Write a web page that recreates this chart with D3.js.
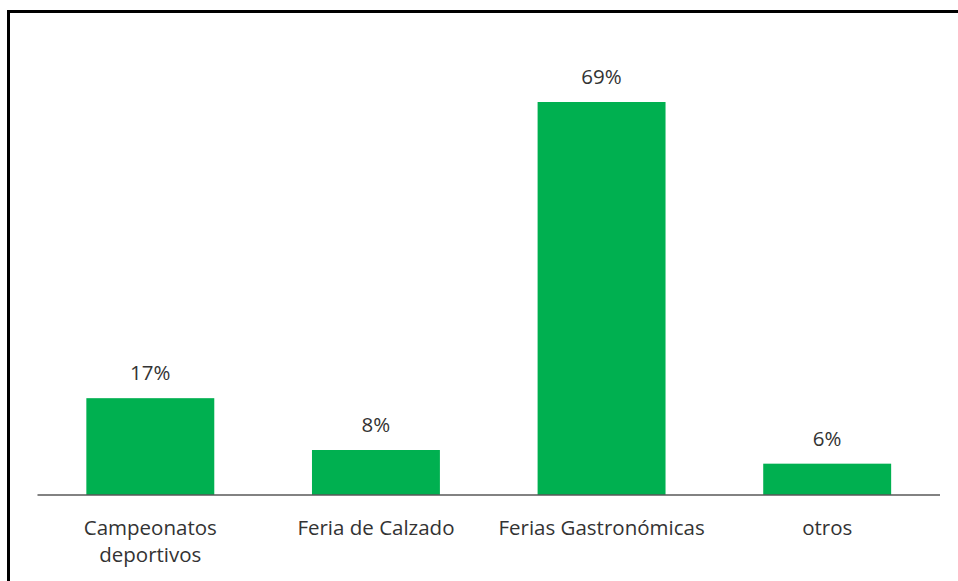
<!DOCTYPE html>
<html>
<head>
<meta charset="utf-8">
<script src="https://cdn.jsdelivr.net/npm/d3@7"></script>
<style>
  body { margin: 0; background: #fff; }
  .chart text { font-family: "Open Sans", sans-serif; fill: #333; }
</style>
</head>
<body>
<div class="chart"></div>
<script>
// data
var categories = ["Campeonatos deportivos", "Feria de Calzado", "Ferias Gastronómicas", "otros"]
var values = [17, 7.9, 69, 5.5]
var labels = ["17%", "8%", "69%", "6%"]

var width = 958, height = 581

let svg = d3.select('div.chart').append('svg')
  .attr("width", width)
  .attr("height", height)

// frame (only top and left edges are in view)
svg.append("rect")
  .attr("x", 8.5)
  .attr("y", 11.5)
  .attr("width", 1000)
  .attr("height", 1000)
  .attr("fill", "none")
  .attr("stroke", "#000")
  .attr("stroke-width", 3)

//Scale
let x = d3.scaleBand()
  .domain(categories)
  .range([37.5, 940])
  .paddingInner(0.433)
  .paddingOuter(0.2165)

let y = d3.scaleLinear()
  .domain([0, 69])
  .range([495, 102])

//bars
svg.append('g')
  .selectAll('rect')
  .data(values)
  .enter()
  .append('rect')
  .attr('x', (d, i) => x(categories[i]))
  .attr('y', d => y(d))
  .attr('width', x.bandwidth())
  .attr('height', d => y(0) - y(d))
  .attr('fill', '#00B050')

//baseline
svg.append("line")
  .attr("x1", x.range()[0])
  .attr("x2", x.range()[1])
  .attr("y1", y(0))
  .attr("y2", y(0))
  .attr("stroke", "#595959")
  .attr("stroke-width", 1.5)

//value labels
svg.append('g')
  .selectAll('text')
  .data(values)
  .enter()
  .append('text')
  .attr('x', (d, i) => x(categories[i]) + x.bandwidth() / 2)
  .attr('y', d => y(d) - 18)
  .attr('text-anchor', 'middle')
  .style('font-size', '20.5px')
  .text((d, i) => labels[i])

//category labels (wrapped like the original)
var catLines = [["Campeonatos", "deportivos"], ["Feria de Calzado"], ["Ferias Gastronómicas"], ["otros"]]
var cat = svg.append('g')
  .selectAll('text')
  .data(categories)
  .enter()
  .append('text')
  .attr('text-anchor', 'middle')
  .style('font-size', '20.5px')

cat.each(function(d, i) {
  var t = d3.select(this)
  catLines[i].forEach((line, j) => {
    t.append('tspan')
      .attr('x', x(d) + x.bandwidth() / 2)
      .attr('y', 535 + j * 27)
      .text(line)
  })
})
</script>
</body>
</html>
